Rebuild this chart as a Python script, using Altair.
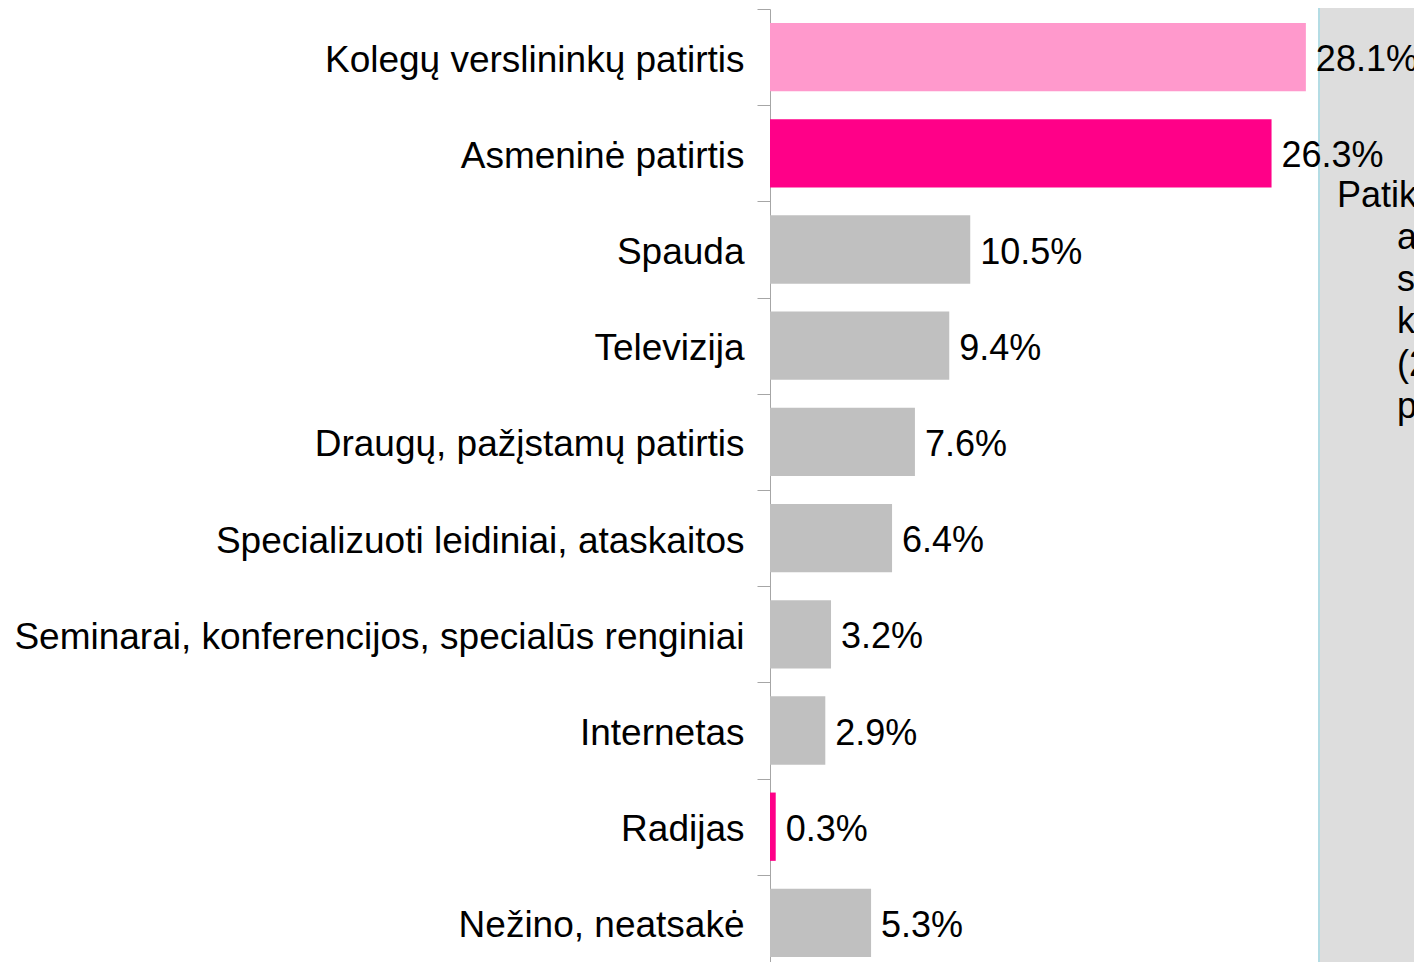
import altair as alt
import pandas as pd

categories = [
    "Kolegų verslininkų patirtis",
    "Asmeninė patirtis",
    "Spauda",
    "Televizija",
    "Draugų, pažįstamų patirtis",
    "Specializuoti leidiniai, ataskaitos",
    "Seminarai, konferencijos, specialūs renginiai",
    "Internetas",
    "Radijas",
    "Nežino, neatsakė",
]
values = [28.1, 26.3, 10.5, 9.4, 7.6, 6.4, 3.2, 2.9, 0.3, 5.3]
groups = ["light", "hot", "grey", "grey", "grey", "grey", "grey", "grey", "hot", "grey"]
labels = [f"{v:.1f}%" for v in values]

panel_first = ["Patikimiausi"]
panel_rest = ["apie", "skaičiai", "koeficientai", "(2008)", "pagal"]

FONT = "Liberation Sans"

df = pd.DataFrame({"cat": categories, "val": values, "grp": groups, "lab": labels})

y_enc = alt.Y(
    "cat:N",
    sort=categories,
    scale=alt.Scale(range=[0, 962], paddingInner=0.29, paddingOuter=0.145),
    axis=alt.Axis(
        title=None,
        domainColor="#A6A6A6",
        tickColor="#A6A6A6",
        tickSize=13,
        tickOffset=-48.1,
        labelOffset=51,
        labelFontSize=37,
        labelFont=FONT,
        labelColor="black",
        labelPadding=13,
        labelLimit=0,
        grid=False,
    ),
)
x_enc = alt.X("val:Q", scale=alt.Scale(domain=[0, 33.77], nice=False), axis=None)

color_enc = alt.Color(
    "grp:N",
    scale=alt.Scale(domain=["light", "hot", "grey"], range=["#FF99CC", "#FF0088", "#C0C0C0"]),
    legend=None,
)

panel_df = pd.DataFrame({"k": [0]})

panel = alt.Chart(panel_df).mark_rect(color="#DDDDDD").encode(
    x=alt.value(550), x2=alt.value(720), y=alt.value(-10), y2=alt.value(1000)
)
panel_edge = alt.Chart(panel_df).mark_rule(color="#B4DCE4", strokeWidth=2).encode(
    x=alt.value(549), y=alt.value(-10), y2=alt.value(1000)
)
panel_t1 = alt.Chart(pd.DataFrame({"t": panel_first})).mark_text(
    font=FONT, fontSize=36, color="black", align="left", baseline="alphabetic"
).encode(text="t:N", x=alt.value(567), y=alt.value(198))
panel_t2 = alt.Chart(pd.DataFrame({"t": ["\n".join(panel_rest)]})).mark_text(
    font=FONT, fontSize=36, color="black", align="left", baseline="alphabetic",
    lineBreak="\n", lineHeight=42.2,
).encode(text="t:N", x=alt.value(627), y=alt.value(240))

bars = alt.Chart(df).mark_bar().encode(y=y_enc, x=x_enc, color=color_enc)
texts = alt.Chart(df).mark_text(
    font=FONT, fontSize=36, color="black", align="left", baseline="middle", dx=10, dy=3
).encode(y=alt.Y("cat:N", sort=categories), x="val:Q", text="lab:N")

chart = alt.layer(panel, panel_edge, panel_t1, panel_t2, bars, texts).properties(
    width=644,
    height=953,
    autosize=alt.AutoSizeParams(type="none"),
    padding={"left": 762, "top": 1, "right": 0, "bottom": 0},
).configure_view(stroke=None)

chart.save("out.html", embed_options={"renderer": "svg", "actions": False})
